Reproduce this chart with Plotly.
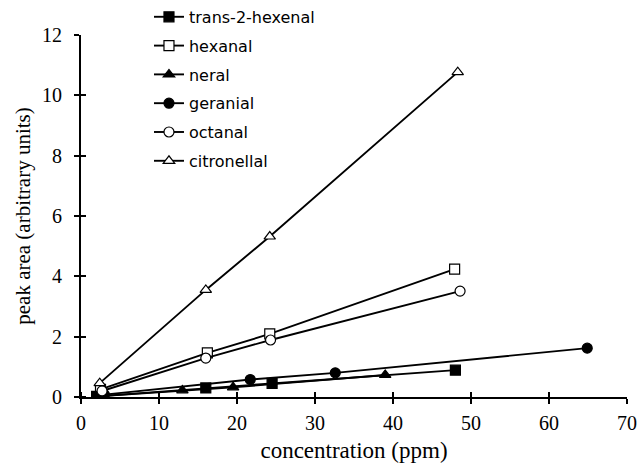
import plotly.graph_objects as go

names = ["trans-2-hexenal", "hexanal", "neral", "geranial", "octanal", "citronellal"]
x_hexenal = [2.0, 16.0, 24.5, 48.0]
y_hexenal = [0.02, 0.30, 0.45, 0.89]
x_hexanal = [2.5, 16.2, 24.2, 47.9]
y_hexanal = [0.25, 1.46, 2.09, 4.24]
x_neral = [2.0, 13.0, 19.5, 39.0]
y_neral = [0.02, 0.22, 0.32, 0.73]
x_geranial = [3.0, 21.7, 32.6, 64.9]
y_geranial = [0.08, 0.58, 0.80, 1.62]
x_octanal = [2.7, 16.0, 24.3, 48.6]
y_octanal = [0.20, 1.29, 1.89, 3.51]
x_citronellal = [2.4, 16.0, 24.2, 48.3]
y_citronellal = [0.46, 3.55, 5.32, 10.77]

xs = [x_hexenal, x_hexanal, x_neral, x_geranial, x_octanal, x_citronellal]
ys = [y_hexenal, y_hexanal, y_neral, y_geranial, y_octanal, y_citronellal]
symbols = ["square", "square-open", "triangle-up", "circle", "circle-open", "triangle-up-open"]

x_ticks = [0, 10, 20, 30, 40, 50, 60, 70]
y_ticks = [0, 2, 4, 6, 8, 10, 12]

fig = go.Figure()
for n, x, y, s in zip(names, xs, ys, symbols):
    is_open = "open" in s
    fig.add_trace(go.Scatter(
        x=x, y=y, name=n, mode="lines+markers", legendgroup=n,
        line=dict(color="black", width=1.9),
        marker=dict(symbol=s.replace("-open", ""), size=10,
                    color="white" if is_open else "black",
                    line=dict(color="black", width=1.2)),
    ))

serif = "Liberation Serif"
tick_style = dict(ticklen=5, tickwidth=1.5, tickcolor="black")
fig.update_layout(
    width=638, height=475,
    margin=dict(l=81, r=11, t=35, b=78, autoexpand=False),
    paper_bgcolor="white", plot_bgcolor="white",
    showlegend=True,
    legend=dict(x=0.1245, y=1.097, xanchor="left", yanchor="top",
                font=dict(family="DejaVu Sans", size=16, color="black"),
                tracegroupgap=5, bgcolor="rgba(0,0,0,0)", itemwidth=30),
    xaxis=dict(range=[0, 70], tickvals=x_ticks, showgrid=False, zeroline=False,
               showline=True, linecolor="black", linewidth=1.8,
               ticks="outside", **tick_style,
               minor=dict(tickvals=[v + 0.01 for v in x_ticks], ticks="inside",
                          showgrid=False, **tick_style),
               ticklabelstandoff=2,
               tickfont=dict(family=serif, size=20, color="black"),
               title=dict(text="concentration (ppm)", standoff=9,
                          font=dict(family=serif, size=23, color="black"))),
    yaxis=dict(range=[0, 12], tickvals=y_ticks, showgrid=False, zeroline=False,
               showline=True, linecolor="black", linewidth=1.8,
               ticks="outside", **tick_style,
               minor=dict(tickvals=[v + 0.002 for v in y_ticks], ticks="inside",
                          showgrid=False, **tick_style),
               ticklabelstandoff=8,
               tickfont=dict(family=serif, size=20, color="black"),
               title=dict(text="peak area (arbitrary units)", standoff=6,
                          font=dict(family=serif, size=21, color="black"))),
)
fig.write_html("out.html")
